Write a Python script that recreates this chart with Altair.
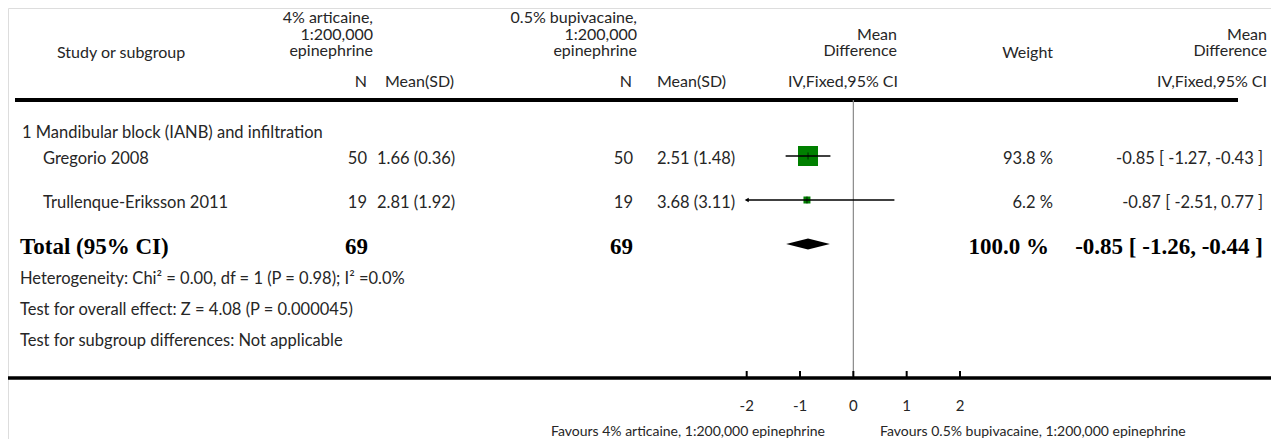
import altair as alt
import pandas as pd

# ---------------- data ----------------
studies = ["Gregorio 2008", "Trullenque-Eriksson 2011"]
n_art = [50, 19]
mean_art = [1.66, 2.81]
sd_art = [0.36, 1.92]
n_bup = [50, 19]
mean_bup = [2.51, 3.68]
sd_bup = [1.48, 3.11]
md = [-0.85, -0.87]
ci_lo = [-1.27, -2.51]
ci_hi = [-0.43, 0.77]
weights = [93.8, 6.2]

total_n_art = 69
total_n_bup = 69
total_md = -0.85
total_lo = -1.26
total_hi = -0.44
total_weight = 100.0

tick_values = [-2, -1, 0, 1, 2]
subgroup_label = "1 Mandibular block (IANB) and infiltration"
footer_lines = [
    "Heterogeneity: Chi² = 0.00, df = 1 (P = 0.98); I² =0.0%",
    "Test for overall effect: Z = 4.08 (P = 0.000045)",
    "Test for subgroup differences: Not applicable",
]
group1_header = ["4% articaine,", "1:200,000", "epinephrine"]
group2_header = ["0.5% bupivacaine,", "1:200,000", "epinephrine"]
md_header = ["Mean", "Difference"]
favours_left = "Favours 4% articaine, 1:200,000 epinephrine"
favours_right = "Favours 0.5% bupivacaine, 1:200,000 epinephrine"

# ---------------- layout ----------------
W, H = 1263, 431
def X(px):
    return px - 8
def Y(py):
    return py - 8

FONT = "Lato"
SERIF = "Liberation Serif"
TXT = "#262626"
FS = 16.5
HFS = 16
LH = 16.5
BS = 23

row_sub = Y(133)
row_text = [Y(159), Y(203)]
row_mark = [Y(156), Y(200)]
row_total = Y(247)
row_foot = [Y(279), Y(310), Y(341)]

YS = alt.Scale(domain=[0, H], range=[0, H])
XS = alt.Scale(domain=[-2, 2], range=[X(746.7), X(960)], clamp=True)

one = pd.DataFrame({"a": [0]})


def text_col(texts, ys, x, align="left", font=FONT, size=FS, weight="normal", color=TXT):
    df = pd.DataFrame({"t": texts, "y": ys})
    return alt.Chart(df).mark_text(
        align=align, baseline="middle", font=font, fontSize=size,
        fontWeight=weight, color=color
    ).encode(
        x=alt.value(x),
        y=alt.Y("y:Q", scale=YS, axis=None),
        text="t:N",
    )


def hdr_text(lines, x, first_line_top):
    df = pd.DataFrame({"t": ["\n".join(lines)], "y": [first_line_top]})
    return alt.Chart(df).mark_text(
        align="right", baseline="top", font=FONT, fontSize=HFS, color=TXT,
        lineBreak="\n", lineHeight=LH
    ).encode(x=alt.value(x), y=alt.Y("y:Q", scale=YS, axis=None), text="t:N")


layers = []

# header texts
top3 = Y(10)
top2 = Y(10 + LH)
layers.append(text_col(["Study or subgroup"], [Y(53)], X(57), size=HFS))
layers.append(hdr_text(group1_header, X(373), top3))
layers.append(hdr_text(group2_header, X(637), top3))
layers.append(hdr_text(md_header, X(897), top2))
layers.append(text_col(["Weight"], [Y(53)], X(1053), align="right", size=HFS))
layers.append(hdr_text(md_header, X(1267), top2))
sub_hdr = Y(82)
layers.append(text_col(["N"], [sub_hdr], X(367), align="right", size=HFS))
layers.append(text_col(["Mean(SD)"], [sub_hdr], X(385), size=HFS))
layers.append(text_col(["N"], [sub_hdr], X(632), align="right", size=HFS))
layers.append(text_col(["Mean(SD)"], [sub_hdr], X(657), size=HFS))
layers.append(text_col(["IV,Fixed,95% CI"], [sub_hdr], X(898), align="right", size=HFS))
layers.append(text_col(["IV,Fixed,95% CI"], [sub_hdr], X(1267), align="right", size=HFS))

# rules
layers.append(alt.Chart(one).mark_rule(strokeWidth=4, color="black").encode(
    x=alt.value(X(15)), x2=alt.value(X(1238)), y=alt.value(Y(100))))
layers.append(alt.Chart(one).mark_rule(strokeWidth=3.5, color="black").encode(
    x=alt.value(X(6)), x2=alt.value(X(1271)), y=alt.value(Y(378))))

# subgroup + study rows
layers.append(text_col([subgroup_label], [row_sub], X(22)))
layers.append(text_col(studies, row_text, X(43)))
layers.append(text_col([str(n) for n in n_art], row_text, X(367), align="right"))
layers.append(text_col([f"{m:.2f} ({s:.2f})" for m, s in zip(mean_art, sd_art)], row_text, X(377)))
layers.append(text_col([str(n) for n in n_bup], row_text, X(633), align="right"))
layers.append(text_col([f"{m:.2f} ({s:.2f})" for m, s in zip(mean_bup, sd_bup)], row_text, X(657)))
layers.append(text_col([f"{w:.1f} %" for w in weights], row_text, X(1053), align="right"))
layers.append(text_col([f"{m:.2f} [ {l:.2f}, {h:.2f} ]" for m, l, h in zip(md, ci_lo, ci_hi)],
                       row_text, X(1263), align="right"))

# total row
bold = dict(font=SERIF, size=BS, weight="bold", color="black")
layers.append(text_col(["Total (95% CI)"], [row_total], X(20), **bold))
layers.append(text_col([str(total_n_art)], [row_total], X(368), align="right", **bold))
layers.append(text_col([str(total_n_bup)], [row_total], X(633), align="right", **bold))
layers.append(text_col([f"{total_weight:.1f} %"], [row_total], X(1049), align="right", **bold))
layers.append(text_col([f"{total_md:.2f} [ {total_lo:.2f}, {total_hi:.2f} ]"], [row_total], X(1263),
                       align="right", **bold))

# footer
layers.append(text_col(footer_lines, row_foot, X(20)))

# zero line
layers.append(alt.Chart(pd.DataFrame({"v": [0]})).mark_rule(color="#8a8a8a", strokeWidth=1.2).encode(
    x=alt.X("v:Q", scale=XS, axis=None), y=alt.value(Y(100)), y2=alt.value(Y(377))))

# axis ticks and labels
tdf = pd.DataFrame({"v": tick_values, "lab": [str(v) for v in tick_values]})
layers.append(alt.Chart(tdf).mark_rule(color="black", strokeWidth=2).encode(
    x=alt.X("v:Q", scale=XS, axis=None), y=alt.value(Y(371)), y2=alt.value(Y(378))))
layers.append(alt.Chart(tdf).mark_text(font=FONT, fontSize=15, color=TXT, baseline="middle").encode(
    x=alt.X("v:Q", scale=XS, axis=None), y=alt.value(Y(406)), text="lab:N"))

# favours labels
layers.append(text_col([favours_left], [Y(432)], X(825), align="right", size=14))
layers.append(text_col([favours_right], [Y(432)], X(880), align="left", size=14))

# study markers
sdf = pd.DataFrame({"study": studies, "y": row_mark, "md": md, "lo": ci_lo, "hi": ci_hi, "w": weights})
layers.append(alt.Chart(sdf).mark_square(color="#008000", opacity=1).encode(
    x=alt.X("md:Q", scale=XS, axis=None),
    y=alt.Y("y:Q", scale=YS, axis=None),
    size=alt.Size("w:Q", scale=alt.Scale(range=[49, 400], zero=False), legend=None)))
layers.append(alt.Chart(sdf).mark_rule(color="black", strokeWidth=1.5).encode(
    x=alt.X("lo:Q", scale=XS, axis=None), x2="hi:Q",
    y=alt.Y("y:Q", scale=YS, axis=None)))
layers.append(alt.Chart(sdf).mark_tick(color="black", orient="vertical", size=7, thickness=1).encode(
    x=alt.X("md:Q", scale=XS, axis=None),
    y=alt.Y("y:Q", scale=YS, axis=None)))
layers.append(alt.Chart(sdf).transform_filter(alt.datum.lo < -2).mark_point(
    shape="triangle-left", filled=True, color="black", size=22, opacity=1).encode(
    x=alt.X("lo:Q", scale=XS, axis=None),
    y=alt.Y("y:Q", scale=YS, axis=None)))

# total diamond
half = 5.5
yc = row_total - 3
ddf = pd.DataFrame({
    "x": [total_lo, total_md, total_hi],
    "y": [yc, yc - half, yc],
    "y2": [yc, yc + half, yc],
})
layers.append(alt.Chart(ddf).mark_area(color="black", opacity=1).encode(
    x=alt.X("x:Q", scale=XS, axis=None),
    y=alt.Y("y:Q", scale=YS, axis=None), y2="y2:Q"))

chart = alt.layer(*layers).properties(
    width=W, height=H, padding=0,
    autosize=alt.AutoSizeParams(type="none"),
).configure_view(stroke=None).configure(background="white")

chart.save("out.html", embed_options={"renderer": "svg", "actions": False})
